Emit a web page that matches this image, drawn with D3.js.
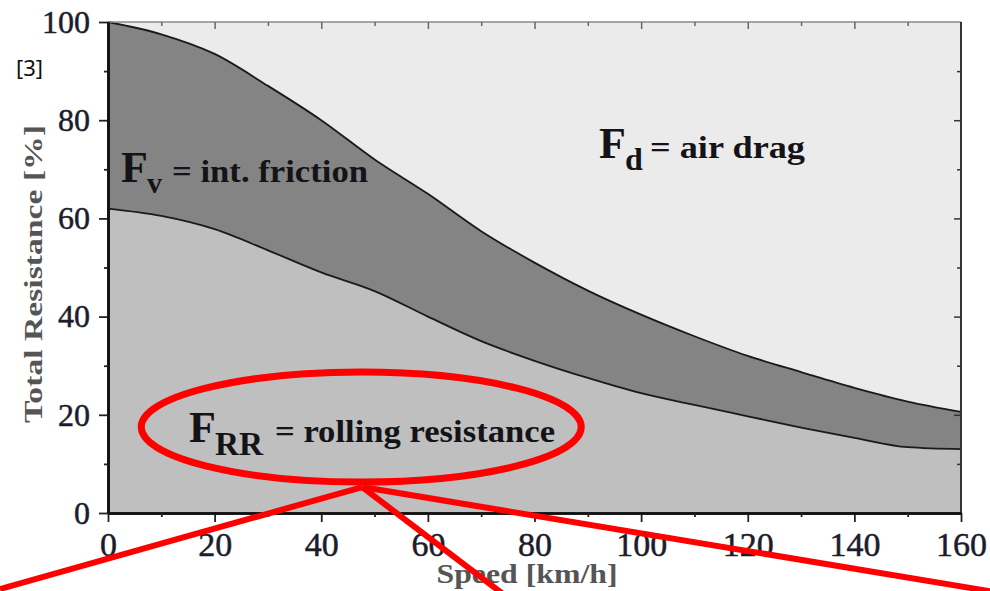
<!DOCTYPE html>
<html>
<head>
<meta charset="utf-8">
<script src="https://cdn.jsdelivr.net/npm/d3@7/dist/d3.min.js"></script>
<style>
  html, body { margin: 0; padding: 0; background: #fff; }
  svg { display: block; }
</style>
</head>
<body>
<svg id="chart" width="990" height="591"></svg>
<script>
// ---- data (percent of total resistance) ----
const speeds            = [0, 10, 20, 30, 40, 50, 60, 70, 80, 90, 100, 110, 120, 130, 140, 150, 160];
const rollingResistance = [62, 60.5, 57.8, 53.5, 49, 45.2, 40, 35, 31, 27.5, 24.4, 22, 19.7, 17.4, 15.3, 13.4, 13];
const internalFriction  = [38, 37, 35.7, 33.5, 31, 26.8, 25, 22.4, 20, 17.8, 16, 14, 12.3, 11.3, 10.2, 9.3, 7.6];
const airDrag           = [0, 2.5, 6.5, 13, 20, 28, 35, 42.6, 49, 54.7, 59.6, 64, 68, 71.3, 74.5, 77.3, 79.4];
const xTicks = [0, 20, 40, 60, 80, 100, 120, 140, 160];
const yTicks = [0, 20, 40, 60, 80, 100];
const xMinor = [10, 30, 50, 70, 90, 110, 130, 150];
const yMinor = [10, 30, 50, 70, 90];

const svg = d3.select("#chart");
const plotLeft = 108, plotRight = 961, plotTop = 22, plotBottom = 513;

const x = d3.scaleLinear().domain([0, 160]).range([plotLeft, plotRight]);
const y = d3.scaleLinear().domain([0, 100]).range([plotBottom, plotTop]);

const rows = speeds.map((s, i) => ({ speed: s, frr: rollingResistance[i], fv: internalFriction[i], fd: airDrag[i] }));
const keys = ["frr", "fv", "fd"];
const colors = { frr: "#bfbfbf", fv: "#848484", fd: "#ebebeb" };
const stacked = d3.stack().keys(keys)(rows);

const curve = d3.curveMonotoneX;
const area = d3.area()
  .x(d => x(d.data.speed))
  .y0(d => y(d[0]))
  .y1(d => y(d[1]))
  .curve(curve);

const gPlot = svg.append("g");
gPlot.selectAll("path.area")
  .data(stacked)
  .join("path")
  .attr("class", "area")
  .attr("fill", d => colors[d.key])
  .attr("d", area);

// boundary lines
const line = d3.line().x(d => x(d.data.speed)).y(d => y(d[1])).curve(curve);
gPlot.selectAll("path.bound")
  .data(stacked.slice(0, 2))
  .join("path")
  .attr("class", "bound")
  .attr("fill", "none")
  .attr("stroke", "#1a1a1a")
  .attr("stroke-width", 1.8)
  .attr("d", line);

// frame: top and right
svg.append("line").attr("x1", plotLeft).attr("x2", plotRight).attr("y1", plotTop).attr("y2", plotTop)
  .attr("stroke", "#8a8a8a").attr("stroke-width", 1.5);
svg.append("line").attr("x1", plotRight).attr("x2", plotRight).attr("y1", plotTop).attr("y2", plotBottom)
  .attr("stroke", "#333").attr("stroke-width", 2);

// top & right inward ticks
const gTop = svg.append("g").attr("transform", `translate(0,${plotTop})`)
  .call(d3.axisBottom(x).tickValues(xTicks.slice(1, -1)).tickSize(7).tickFormat(""));
const gTopMinor = svg.append("g").attr("transform", `translate(0,${plotTop})`)
  .call(d3.axisBottom(x).tickValues(xMinor).tickSize(4).tickFormat(""));
[gTop, gTopMinor].forEach(g => { g.select(".domain").remove(); g.selectAll("line").attr("stroke", "#666").attr("stroke-width", 1.5); });

const gRight = svg.append("g").attr("transform", `translate(${plotRight},0)`)
  .call(d3.axisLeft(y).tickValues(yTicks.slice(1, -1)).tickSize(7).tickFormat(""));
const gRightMinor = svg.append("g").attr("transform", `translate(${plotRight},0)`)
  .call(d3.axisLeft(y).tickValues(yMinor).tickSize(4).tickFormat(""));
[gRight, gRightMinor].forEach(g => { g.select(".domain").remove(); g.selectAll("line").attr("stroke", "#333").attr("stroke-width", 1.5); });

// left axis
const gy = svg.append("g").attr("transform", `translate(${plotLeft},0)`)
  .call(d3.axisLeft(y).tickValues(yTicks).tickSize(9).tickPadding(9).tickSizeOuter(0));
const gyMinor = svg.append("g").attr("transform", `translate(${plotLeft},0)`)
  .call(d3.axisLeft(y).tickValues(yMinor).tickSize(4).tickFormat("").tickSizeOuter(0));
// bottom axis
const gx = svg.append("g").attr("transform", `translate(0,${plotBottom})`)
  .call(d3.axisBottom(x).tickValues(xTicks).tickSize(9).tickPadding(10).tickSizeOuter(0));
const gxMinor = svg.append("g").attr("transform", `translate(0,${plotBottom})`)
  .call(d3.axisBottom(x).tickValues(xMinor).tickSize(4).tickFormat("").tickSizeOuter(0));

[gy, gyMinor, gx, gxMinor].forEach(g => {
  g.select(".domain").attr("stroke", "#111").attr("stroke-width", 2.6);
  g.selectAll(".tick line").attr("stroke", "#222").attr("stroke-width", 1.8);
});
[gy, gx].forEach((g, i) => {
  g.attr("font-family", "'Liberation Serif', serif");
  g.selectAll(".tick text")
    .attr("font-family", "'Liberation Serif', serif")
    .attr("font-size", i === 0 ? 32 : 34)
    .attr("fill", "#1c1c2c")
    .attr("stroke", "#1c1c2c")
    .attr("stroke-width", 0.5);
});

// axis titles
svg.append("text")
  .attr("transform", "translate(42,274) rotate(-90)")
  .attr("text-anchor", "middle")
  .attr("font-family", "'Liberation Serif', serif")
  .attr("font-weight", "bold")
  .attr("font-size", 26)
  .attr("fill", "#555")
  .attr("textLength", 298)
  .attr("lengthAdjust", "spacingAndGlyphs")
  .text("Total Resistance [%]");

svg.append("text")
  .attr("x", 527).attr("y", 583)
  .attr("text-anchor", "middle")
  .attr("font-family", "'Liberation Serif', serif")
  .attr("font-weight", "bold")
  .attr("font-size", 27)
  .attr("fill", "#555")
  .attr("textLength", 181)
  .attr("lengthAdjust", "spacingAndGlyphs")
  .text("Speed [km/h]");

// reference marker
svg.append("text")
  .attr("x", 16).attr("y", 76)
  .attr("font-family", "'Noto Sans', sans-serif")
  .attr("font-size", 22)
  .attr("fill", "#111")
  .text("[3]");

// region labels
const serif = "'Liberation Serif', serif";
function label(parts) {
  parts.forEach(p => {
    const t = svg.append("text")
      .attr("x", p.x).attr("y", p.y)
      .attr("font-family", serif)
      .attr("font-weight", "bold")
      .attr("font-size", p.size)
      .attr("fill", "#141418")
      .text(p.text);
    if (p.len) t.attr("textLength", p.len).attr("lengthAdjust", "spacingAndGlyphs");
  });
}
label([
  { text: "F", x: 121, y: 182, size: 44 },
  { text: "v", x: 147, y: 193, size: 30 },
  { text: "= int. friction", x: 172, y: 182, size: 32, len: 196 }
]);
label([
  { text: "F", x: 599, y: 158, size: 44 },
  { text: "d", x: 625, y: 170, size: 32 },
  { text: "= air drag", x: 650, y: 158, size: 32, len: 155 }
]);
label([
  { text: "F", x: 189, y: 442, size: 44 },
  { text: "RR", x: 215, y: 455, size: 34, len: 48 },
  { text: "= rolling resistance", x: 275, y: 442, size: 32, len: 280 }
]);

// red callout annotation
const cx = x(47.5), cy = y(17.5);
const red = "#f00";
const gRed = svg.append("g");
const apex = [cx + 1, cy + 60];
[[0, 589], [503, 594], [995, 592]].forEach(e => {
  gRed.append("line")
    .attr("x1", apex[0]).attr("y1", apex[1])
    .attr("x2", e[0]).attr("y2", e[1])
    .attr("stroke", red).attr("stroke-width", 6);
});
gRed.append("ellipse")
  .attr("cx", cx).attr("cy", cy)
  .attr("rx", 220).attr("ry", 55)
  .attr("fill", "none")
  .attr("stroke", red).attr("stroke-width", 7);
</script>
</body>
</html>
